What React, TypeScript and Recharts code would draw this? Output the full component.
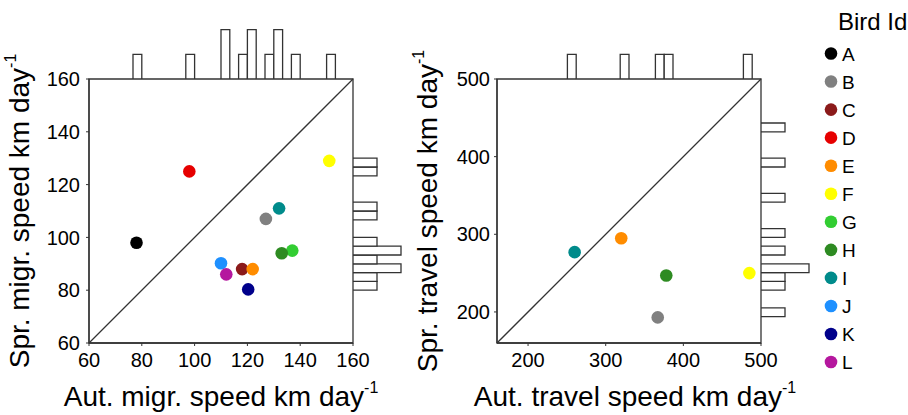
import React from 'react';
import { ScatterChart, Scatter, XAxis, YAxis, ReferenceLine, ReferenceArea, Legend } from 'recharts';

const FONT = '"Liberation Sans", Arial, Helvetica, sans-serif';
const INK = '#333333';

// ---------- data ----------
const birdIds = ['A', 'B', 'C', 'D', 'E', 'F', 'G', 'H', 'I', 'J', 'K', 'L'];
const birdColors = ['#000000', '#808080', '#8B1A1A', '#E60000', '#FF8C00', '#FFFF00', '#32CD32', '#2E8B22', '#008B8B', '#1E90FF', '#00008B', '#B5179E'];
const autMigrSpeed = [78, 127, 118, 98, 122, 151, 137, 133, 132, 110, 120.3, 112];
const sprMigrSpeed = [98, 107, 88, 125, 88, 129, 95, 94, 111, 90.2, 80.3, 86];
const autTravelSpeed = [null, 367, null, null, 320, 485, null, 378, 260, null, null, null];
const sprTravelSpeed = [null, 193, null, null, 295, 250, null, 247, 277, null, null, null];

const migrTicks = [60, 80, 100, 120, 140, 160];
const travelTicks = [200, 300, 400, 500];
const migrDomain: [number, number] = [60, 160];
const travelDomain: [number, number] = [160, 500];
const binsPerAxis = 30;

// histogram bins: bin index (from domain minimum) and count
const autMigrBinIdx = [5, 11, 15, 17, 18, 20, 21, 23, 27];
const autMigrBinCount = [1, 1, 2, 1, 2, 1, 2, 1, 1];
const sprMigrBinIdx = [6, 7, 8, 9, 10, 11, 14, 15, 19, 20];
const sprMigrBinCount = [1, 1, 2, 1, 2, 1, 1, 1, 1, 1];
const autTravelBinIdx = [8, 14, 18, 19, 28];
const autTravelBinCount = [1, 1, 1, 1, 1];
const sprTravelBinIdx = [3, 6, 7, 8, 10, 12, 16, 20, 24];
const sprTravelBinCount = [1, 1, 1, 2, 1, 1, 1, 1, 1];
const histDomain: [number, number] = [0, 3];

const xTitleMigr = 'Aut. migr. speed km day';
const yTitleMigr = 'Spr. migr. speed km day';
const xTitleTravel = 'Aut. travel speed km day';
const yTitleTravel = 'Spr. travel speed km day';
const legendTitle = 'Bird Id';

// ---------- helpers ----------
function bins(domain: [number, number], idx: number[], counts: number[]) {
  const w = (domain[1] - domain[0]) / binsPerAxis;
  return idx.map((k, i) => ({ lo: domain[0] + k * w, hi: domain[0] + (k + 1) * w, n: counts[i] }));
}

const XTitle = (props: any) => {
  const vb = props.viewBox || {};
  const x = (vb.x ?? 0) + (vb.width ?? 0) / 2 + (props.shift ?? 0);
  const y = (vb.y ?? 0) + props.off;
  return (
    <text x={x} y={y} textAnchor="middle" fontSize={28} fontFamily={FONT} fill="#000">
      {props.text}
      <tspan fontSize={16} dy={-13}>-1</tspan>
    </text>
  );
};

const YTitle = (props: any) => {
  const vb = props.viewBox || {};
  const x = (vb.x ?? 0) + props.off;
  const y = (vb.y ?? 0) + (vb.height ?? 0) / 2;
  return (
    <text transform={`translate(${x},${y}) rotate(-90)`} x={0} y={0} textAnchor="middle" fontSize={28} fontFamily={FONT} fill="#000">
      {props.text}
      <tspan fontSize={16} dy={-13}>-1</tspan>
    </text>
  );
};

const BirdLegend = () => (
  <svg width={90} height={380} style={{ display: 'block', overflow: 'visible' }}>
    <text x={20} y={30} fontSize={24} fontFamily={FONT} fill="#000">{legendTitle}</text>
    {birdIds.map((id, i) => {
      const cy = 53.5 + i * 28.05;
      return (
        <g key={id}>
          <circle cx={13} cy={cy} r={6.3} fill={birdColors[i]} />
          <text x={24} y={cy + 7} fontSize={19} fontFamily={FONT} fill="#000">{id}</text>
        </g>
      );
    })}
  </svg>
);

const tickStyle = { fontSize: 20, fill: '#000', fontFamily: FONT };

function dot(color: string) {
  return (p: any) => <circle cx={p.cx} cy={p.cy} r={6.3} fill={color} />;
}

function MainPanel(props: {
  left: number; width: number; yAxisWidth: number; right: number;
  domain: [number, number]; ticks: number[];
  xs: (number | null)[]; ys: (number | null)[];
  xTitle: string; yTitle: string; yTitleOff: number; tickMargin: number; xShift: number; legend?: boolean;
}) {
  const { domain } = props;
  return (
    <div style={{ position: 'absolute', left: props.left, top: 0 }}>
      <ScatterChart width={props.width} height={415} margin={{ top: 79, right: props.right, bottom: 2, left: 0 }}>
        <XAxis
          type="number" dataKey="x" domain={domain} allowDataOverflow ticks={props.ticks}
          height={70} tickSize={3} tickMargin={7} tick={tickStyle}
          axisLine={{ stroke: INK, strokeWidth: 1.3 }} tickLine={{ stroke: INK }}
          label={<XTitle text={props.xTitle} off={63} shift={props.xShift} />}
        />
        <YAxis
          type="number" dataKey="y" domain={domain} allowDataOverflow ticks={props.ticks}
          width={props.yAxisWidth} tickSize={3} tickMargin={props.tickMargin} tick={tickStyle}
          axisLine={{ stroke: INK, strokeWidth: 1.3 }} tickLine={{ stroke: INK }}
          label={<YTitle text={props.yTitle} off={props.yTitleOff} />}
        />
        <ReferenceArea x1={domain[0]} x2={domain[1]} y1={domain[0]} y2={domain[1]} fill="none" fillOpacity={0} stroke={INK} strokeWidth={1.3} ifOverflow="visible" />
        <ReferenceLine segment={[{ x: domain[0], y: domain[0] }, { x: domain[1], y: domain[1] }]} stroke={INK} strokeWidth={1.3} ifOverflow="visible" />
        {birdIds.map((id, i) =>
          props.xs[i] == null || props.ys[i] == null ? null : (
            <Scatter
              key={id} name={id} data={[{ x: props.xs[i], y: props.ys[i] }]}
              fill={birdColors[i]} isAnimationActive={false} shape={dot(birdColors[i])}
            />
          )
        )}
        {props.legend ? (
          <Legend
            layout="vertical" align="center" verticalAlign="middle"
            wrapperStyle={{ position: 'absolute', left: 818, top: 0, width: 90, height: 380 }}
            content={() => <BirdLegend />}
          />
        ) : null}
      </ScatterChart>
    </div>
  );
}

function TopHist(props: { left: number; width: number; marginLeft: number; right: number; domain: [number, number]; idx: number[]; counts: number[] }) {
  const b = bins(props.domain, props.idx, props.counts);
  return (
    <div style={{ position: 'absolute', left: props.left, top: 0 }}>
      <ScatterChart width={props.width} height={79} margin={{ top: 5, right: props.right, bottom: 0, left: props.marginLeft }}>
        <XAxis type="number" dataKey="x" hide domain={props.domain} allowDataOverflow />
        <YAxis type="number" dataKey="y" hide domain={histDomain} allowDataOverflow />
        {b.map((r, i) => (
          <ReferenceArea key={i} x1={r.lo} x2={r.hi} y1={0} y2={r.n} fill="#fff" fillOpacity={1} stroke={INK} strokeWidth={1.3} ifOverflow="visible" />
        ))}
      </ScatterChart>
    </div>
  );
}

function SideHist(props: { left: number; domain: [number, number]; idx: number[]; counts: number[] }) {
  const b = bins(props.domain, props.idx, props.counts);
  return (
    <div style={{ position: 'absolute', left: props.left, top: 0 }}>
      <ScatterChart width={80} height={415} margin={{ top: 79, right: 8, bottom: 72, left: 0 }}>
        <XAxis type="number" dataKey="x" hide domain={histDomain} allowDataOverflow />
        <YAxis type="number" dataKey="y" hide domain={props.domain} allowDataOverflow />
        {b.map((r, i) => (
          <ReferenceArea key={i} x1={0} x2={r.n} y1={r.lo} y2={r.hi} fill="#fff" fillOpacity={1} stroke={INK} strokeWidth={1.3} ifOverflow="visible" />
        ))}
      </ScatterChart>
    </div>
  );
}

export default function App() {
  return (
    <div style={{ position: 'absolute', left: 0, top: 0, width: 908, height: 415, background: '#fff', fontFamily: FONT, overflow: 'hidden' }}>
      <MainPanel
        left={0} width={380} yAxisWidth={89} right={27} domain={migrDomain} ticks={migrTicks}
        xs={autMigrSpeed} ys={sprMigrSpeed} xTitle={xTitleMigr} yTitle={yTitleMigr} yTitleOff={29} tickMargin={6} xShift={0} legend
      />
      <MainPanel
        left={380} width={440} yAxisWidth={117} right={59} domain={travelDomain} ticks={travelTicks}
        xs={autTravelSpeed} ys={sprTravelSpeed} xTitle={xTitleTravel} yTitle={yTitleTravel} yTitleOff={57} tickMargin={4} xShift={6}
      />
      <TopHist left={0} width={380} marginLeft={89} right={27} domain={migrDomain} idx={autMigrBinIdx} counts={autMigrBinCount} />
      <TopHist left={380} width={440} marginLeft={117} right={59} domain={travelDomain} idx={autTravelBinIdx} counts={autTravelBinCount} />
      <SideHist left={353} domain={migrDomain} idx={sprMigrBinIdx} counts={sprMigrBinCount} />
      <SideHist left={761} domain={travelDomain} idx={sprTravelBinIdx} counts={sprTravelBinCount} />
    </div>
  );
}
